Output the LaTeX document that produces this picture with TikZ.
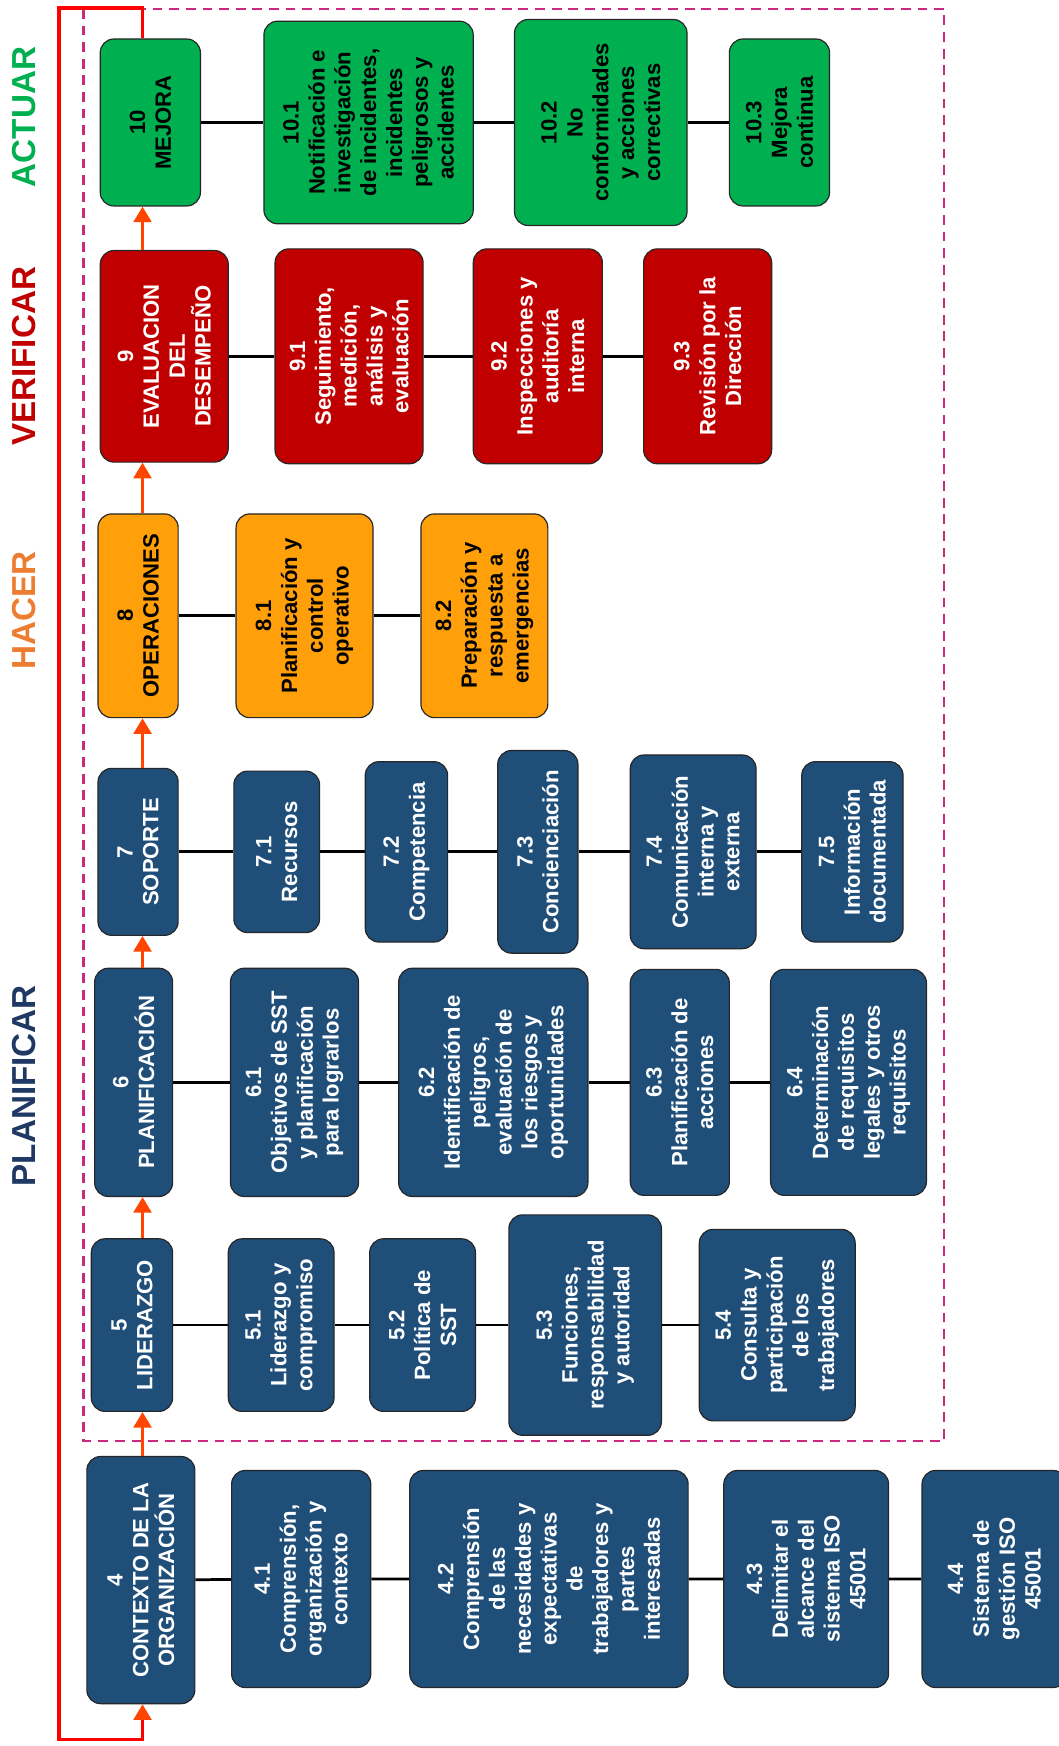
\documentclass[tikz,border=0pt]{standalone}
\usepackage{fontspec}
\setmainfont{Liberation Sans}
\usepackage{xcolor}
\usepackage{tikz}
\usetikzlibrary{arrows.meta}
\definecolor{azulC}{RGB}{31,78,121}
\definecolor{naranjaC}{RGB}{255,160,10}
\definecolor{rojoC}{RGB}{192,0,0}
\definecolor{verdeC}{RGB}{0,176,80}
\definecolor{flechaC}{RGB}{255,69,0}
\definecolor{marcoC}{RGB}{204,40,125}
\definecolor{hacerC}{RGB}{237,125,49}
\definecolor{planC}{RGB}{31,56,100}
\pgfdeclarelayer{lineas_layer}
\pgfdeclarelayer{esquema}
\pgfsetlayers{lineas_layer,esquema,main}
\tikzstyle{caja}=[draw=black!85,line width=0.6pt,rounded corners=7pt,rotate=90,align=center,inner sep=2pt,font=\fontsize{11.3}{13.2}\selectfont\bfseries]
\tikzstyle{planificar}=[caja,fill=azulC,text=white]
\tikzstyle{hacer}=[caja,fill=naranjaC,text=black]
\tikzstyle{verificar}=[caja,fill=rojoC,text=white]
\tikzstyle{actuar}=[caja,fill=verdeC,text=black]
\tikzstyle{etapa}=[rotate=90,inner sep=0pt,font=\fontsize{17}{17}\selectfont\bfseries]
\tikzstyle{linea}=[draw=black,line width=1.4pt]
\tikzstyle{flecha}=[draw=flechaC,line width=1.8pt,-{Triangle[width=9pt,length=8pt]}]
\tikzstyle{lazo}=[draw=red,line width=1.8pt,-{Triangle[width=9pt,length=8pt,color=flechaC]}]
\tikzstyle{marco}=[draw=marcoC,line width=1.2pt,dash pattern=on 5pt off 3.5pt]

\begin{document}
\begin{tikzpicture}[x=0.02cm,y=-0.02cm]
		\useasboundingbox (0,0) rectangle (951,1568);
		\begin{pgfonlayer}{esquema}
			\node [style=etapa,text=verdeC] (actuar) at (22,105) {ACTUAR};
			\node [style=etapa,text=rojoC] (verificar) at (22,320) {VERIFICAR};
			\node [style=etapa,text=hacerC] (hacer) at (22,548) {HACER};
			\node [style=etapa,text=planC] (planificar) at (22,975) {PLANIFICAR};
			\node [style=actuar,minimum width=3cm,minimum height=1.8cm] (m10) at (135,110) {10\\MEJORA};
			\node [style=actuar,minimum width=3.64cm,minimum height=3.76cm] (a101) at (331,110) {10.1\\Notificación e\\investigación\\de incidentes,\\incidentes\\peligrosos y\\accidentes};
			\node [style=actuar,minimum width=3.7cm,minimum height=3.1cm] (a102) at (539.5,110) {10.2\\No\\conformidades\\y acciones\\correctivas};
			\node [style=actuar,minimum width=3cm,minimum height=1.8cm] (a103) at (700,110) {10.3\\Mejora\\continua};
			\node [style=verificar,minimum width=3.8cm,minimum height=2.3cm] (m9) at (147.5,320) {9\\EVALUACION\\DEL\\DESEMPEÑO};
			\node [style=verificar,minimum width=3.86cm,minimum height=2.66cm] (a91) at (313.5,320) {9.1\\Seguimiento,\\medición,\\análisis y\\evaluación};
			\node [style=verificar,minimum width=3.86cm,minimum height=2.32cm] (a92) at (483,320) {9.2\\Inspecciones y\\auditoría\\interna};
			\node [style=verificar,minimum width=3.86cm,minimum height=2.3cm] (a93) at (635.5,320) {9.3\\Revisión por la\\Dirección};
			\node [style=hacer,minimum width=3.66cm,minimum height=1.44cm] (m8) at (124,553) {8\\OPERACIONES};
			\node [style=hacer,minimum width=3.66cm,minimum height=2.46cm] (a81) at (273.5,553) {8.1\\Planificación y\\control\\operativo};
			\node [style=hacer,minimum width=3.66cm,minimum height=2.28cm] (a82) at (435,553) {8.2\\Preparación y\\respuesta a\\emergencias};
			\node [style=planificar,minimum width=3cm,minimum height=1.44cm] (m7) at (124,765) {7\\SOPORTE};
			\node [style=planificar,minimum width=2.9cm,minimum height=1.54cm] (a71) at (248.5,765) {7.1\\Recursos};
			\node [style=planificar,minimum width=3.24cm,minimum height=1.48cm] (a72) at (365,765) {7.2\\Competencia};
			\node [style=planificar,minimum width=3.64cm,minimum height=1.44cm] (a73) at (483,765) {7.3\\Concienciación};
			\node [style=planificar,minimum width=3.48cm,minimum height=2.26cm] (a74) at (622.5,765) {7.4\\Comunicación\\interna y\\externa};
			\node [style=planificar,minimum width=3.24cm,minimum height=1.82cm] (a75) at (765.5,765) {7.5\\Información\\documentada};
			\node [style=planificar,minimum width=4.1cm,minimum height=1.4cm] (m6) at (120,972) {6\\PLANIFICACIÓN};
			\node [style=planificar,minimum width=4.1cm,minimum height=2.3cm] (a61) at (264.5,972) {6.1\\Objetivos de SST\\y planificación\\para lograrlos};
			\node [style=planificar,minimum width=4.1cm,minimum height=3.4cm] (a62) at (443,972) {6.2\\Identificación de\\peligros,\\evaluación de\\los riesgos y\\oportunidades};
			\node [style=planificar,minimum width=4.06cm,minimum height=1.78cm] (a63) at (610.5,972) {6.3\\Planificación de\\acciones};
			\node [style=planificar,minimum width=4.06cm,minimum height=2.8cm] (a64) at (762,972) {6.4\\Determinación\\de requisitos\\legales y otros\\requisitos};
			\node [style=planificar,minimum width=3.1cm,minimum height=1.46cm] (m5) at (118.5,1190) {5\\LIDERAZGO};
			\node [style=planificar,minimum width=3.1cm,minimum height=1.9cm] (a51) at (252.5,1190) {5.1\\Liderazgo y\\compromiso};
			\node [style=planificar,minimum width=3.1cm,minimum height=1.9cm] (a52) at (379.5,1190) {5.2\\Política de\\SST};
			\node [style=planificar,minimum width=3.96cm,minimum height=2.74cm] (a53) at (525.5,1190) {5.3\\Funciones,\\responsabilidad\\y autoridad};
			\node [style=planificar,minimum width=3.44cm,minimum height=2.8cm] (a54) at (698,1190) {5.4\\Consulta y\\participación\\de los\\trabajadores};
			\node [style=planificar,minimum width=4.44cm,minimum height=1.94cm] (m4) at (126.5,1419) {4\\CONTEXTO DE LA\\ORGANIZACIÓN};
			\node [style=planificar,minimum width=3.9cm,minimum height=2.5cm] (a41) at (270.5,1418) {4.1\\Comprensión,\\organización y\\contexto};
			\node [style=planificar,minimum width=3.9cm,minimum height=5cm] (a42) at (493,1418) {4.2\\Comprensión\\de las\\necesidades y\\expectativas\\de\\trabajadores y\\partes\\interesadas};
			\node [style=planificar,minimum width=3.9cm,minimum height=2.96cm] (a43) at (724,1418) {4.3\\Delimitar el\\alcance del\\sistema ISO\\45001};
			\node [style=planificar,minimum width=3.9cm,minimum height=2.6cm] (a44) at (893,1418) {4.4\\Sistema de\\gestión ISO\\45001};
		\end{pgfonlayer}
		\begin{pgfonlayer}{lineas_layer}
			\coordinate (col) at (128,0);
			\coordinate (lazo_sup) at (53,7);
			\coordinate (lazo_inf) at (53,1562);
			\draw [style=marco] (75,8) rectangle (848,1294);
			\path [style=linea] (m10) -- (a101) -- (a102) -- (a103);
			\path [style=linea] (m9) -- (a91) -- (a92) -- (a93);
			\path [style=linea] (m8) -- (a81) -- (a82);
			\path [style=linea] (m7) -- (a71) -- (a72) -- (a73) -- (a74) -- (a75);
			\path [style=linea] (m6) -- (a61) -- (a62) -- (a63) -- (a64);
			\path [style=linea] (m5) -- (a51) -- (a52) -- (a53) -- (a54);
			\path [style=linea] (m4) -- (a41) -- (a42) -- (a43) -- (a44);
		\end{pgfonlayer}
		\path [style=flecha] (m4.east -| col) -- (m5.west -| col);
		\path [style=flecha] (m5.east -| col) -- (m6.west -| col);
		\path [style=flecha] (m6.east -| col) -- (m7.west -| col);
		\path [style=flecha] (m7.east -| col) -- (m8.west -| col);
		\path [style=flecha] (m8.east -| col) -- (m9.west -| col);
		\path [style=flecha] (m9.east -| col) -- (m10.west -| col);
		\path [style=lazo] (m10.east -| col) |- (lazo_sup) -- (lazo_inf) -| (m4.west -| col);
\end{tikzpicture}
\end{document}
